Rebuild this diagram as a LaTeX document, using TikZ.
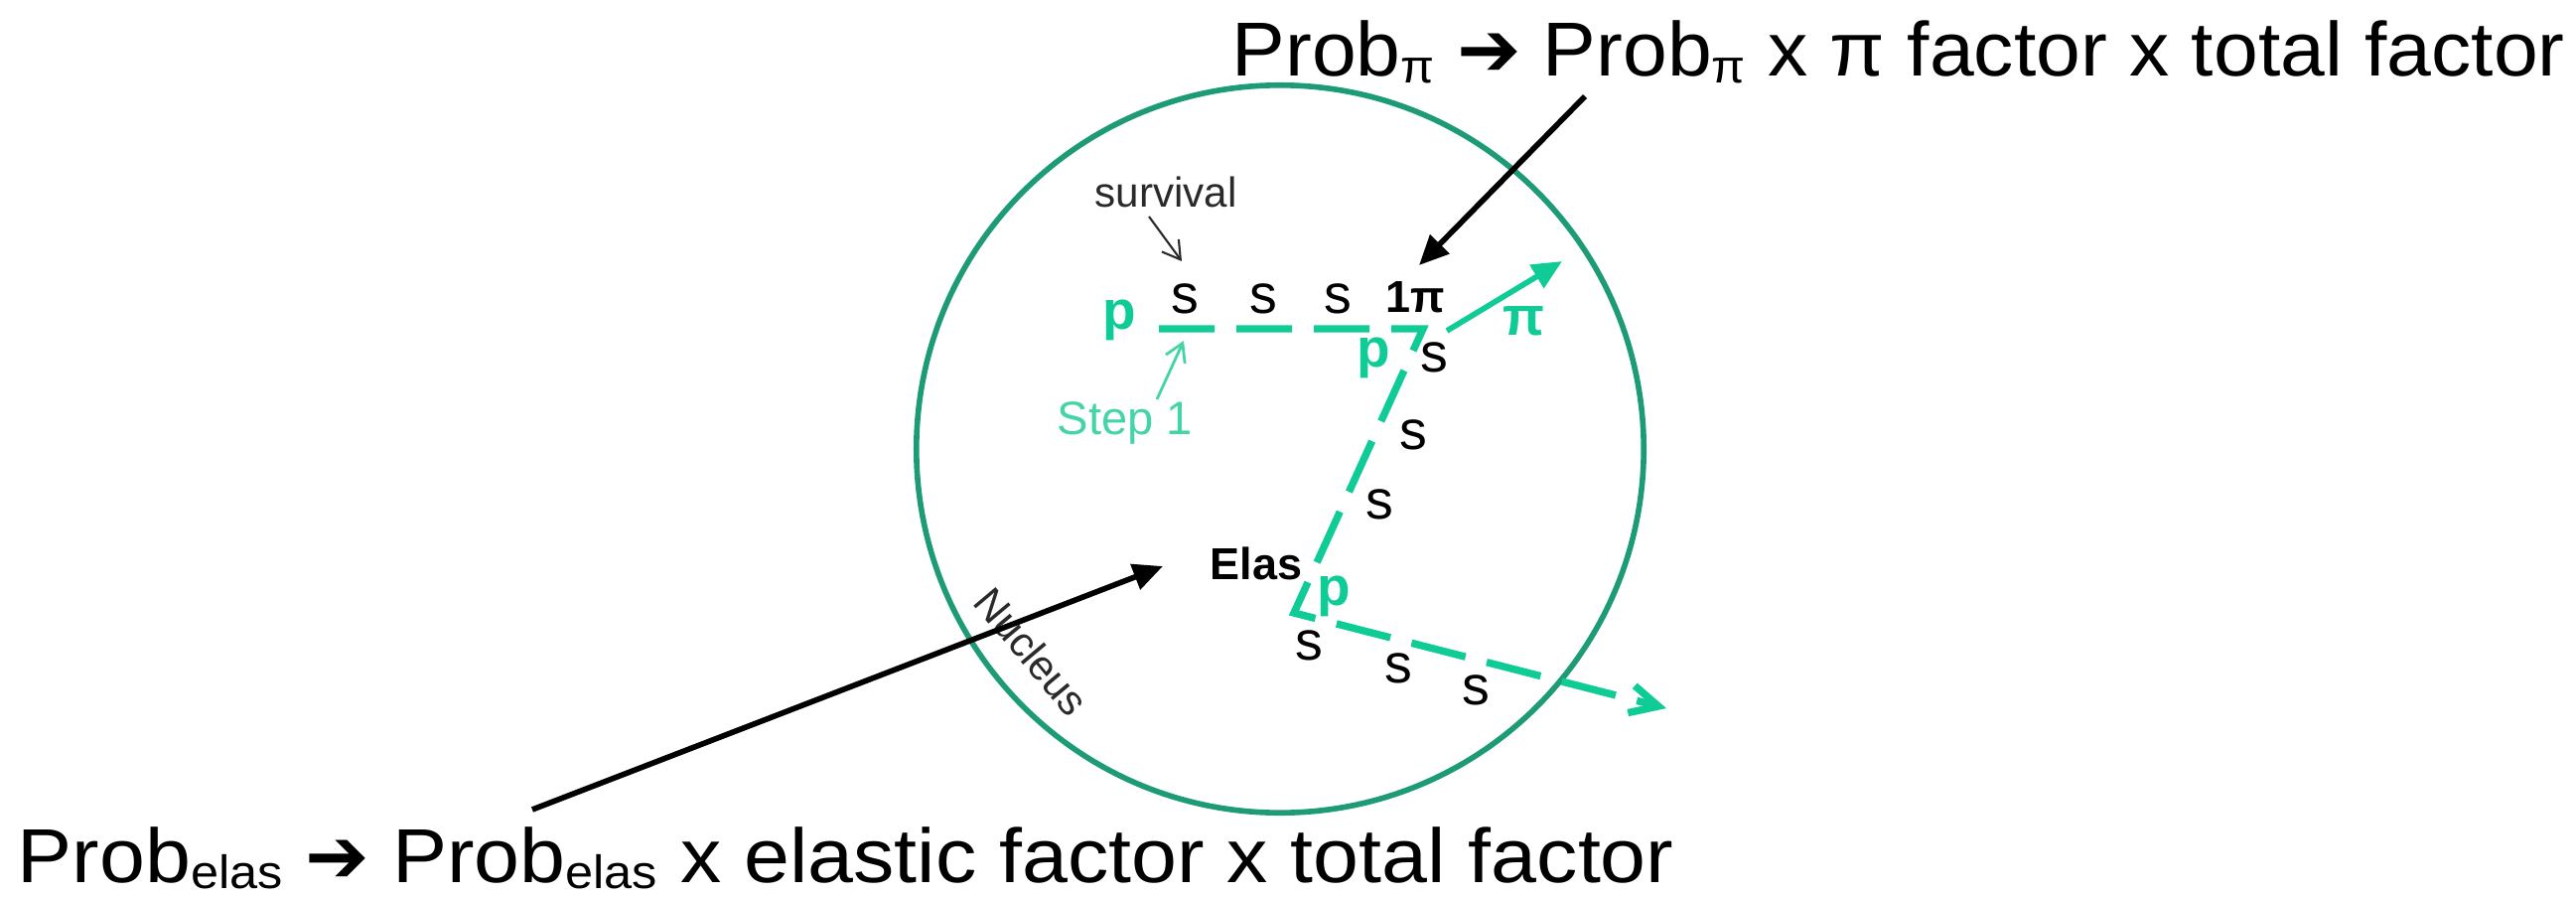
\documentclass[tikz,border=0pt]{standalone}
\usepackage{fontspec}
\setmainfont{Liberation Sans}
\newfontfamily\eqfont[FakeStretch=1.045]{Liberation Sans}
\newfontfamily\eqwidefont[FakeStretch=1.072]{Liberation Sans}
\newfontfamily\symfont{DejaVu Sans}
\usetikzlibrary{arrows.meta,positioning,calc}
\definecolor{ink}     {HTML}{000000}
\definecolor{mint}    {HTML}{0FCB95}
\definecolor{mintLt}  {HTML}{45D4A8}
\definecolor{teal}    {HTML}{1D9A76}
\definecolor{graphite}{HTML}{2A2A2A}
\newcommand{\lowsub}[1]{\raisebox{-0.08em}{\fontsize{13.4}{14}\selectfont #1}}
\tikzset{
  slabel/.style={font=\fontsize{15.8}{17}\selectfont, text=ink, inner sep=0pt},
  plabel/.style={font=\fontsize{15.6}{17}\selectfont\bfseries, text=mint, inner sep=0pt},
  blabel/.style={font=\fontsize{12.8}{15}\selectfont\bfseries, text=ink, inner sep=0pt},
  track/.style={draw=mint, line width=2.1pt, dash pattern=on 0.56cm off 0.22cm},
  callout/.style={draw=ink, line width=1.6pt, -{Triangle[length=8.5pt,width=7.5pt]}},
  eqtext/.style={font=\eqfont\fontsize{21.9}{26}\selectfont, inner sep=0pt, anchor=base west},
}

\begin{document}
\begin{tikzpicture}[x=0.01cm, y=0.01cm]
  \useasboundingbox (0,0) rectangle (2594,902);
  % nucleus
  \node[circle, draw=teal, line width=1.6pt, minimum size=7.32cm, inner sep=0pt] (nucleus) at (1289,450) {};
  \node[font=\fontsize{12}{14}\selectfont, text=graphite, rotate=-50, inner sep=0pt] (nuclab) at (1039,246) {Nucleus};
  % proton track
  \coordinate (trackin)  at (1167,571);
  \coordinate (kink)     at (1433,571);
  \coordinate (elastic)  at (1303,285);
  \coordinate (trackout) at (1678,189);
  \draw[track, -{Straight Barb[length=8pt,width=8pt]}] (trackin) -- (kink) -- (elastic) -- (trackout);
  % survival steps
  \foreach \x/\y/\n in {1193/601/s1,1272/601/s2,1347/601/s3,1444/542/s4,1423/464/s5,1389/394/s6,1318/252/s7,1408/229/s8,1486/207/s9}{
    \node[slabel] (\n) at (\x,\y) {s};
  }
  \node[blabel] (onepi) at (1425,603) {1π};
  \node[blabel] (elaslab) at (1265,335) {Elas};
  \foreach \x/\y/\n in {1127/580/pin,1383/542/pkink,1343/302/pelas}{
    \node[plabel] (\n) at (\x,\y) {p};
  }
  \node[plabel] (pilab) at (1534,579) {π};
  % pion
  \coordinate (pistart) at (1457,569);
  \coordinate (piend)   at (1573,639);
  \draw[mint, line width=1.6pt, -{Triangle[length=8.5pt,width=7.5pt]}] (pistart) -- (piend);
  % survival and step 1
  \node[font=\fontsize{12}{14}\selectfont, text=graphite, inner sep=0pt] (survival) at (1174,709) {survival};
  \coordinate (survtail) at (1157,684);
  \coordinate (survtip)  at (1190,639);
  \draw[graphite, line width=0.6pt, -{Straight Barb[length=5pt,width=6pt]}] (survtail) -- (survtip);
  \node[font=\fontsize{13.4}{15}\selectfont, text=mintLt, inner sep=0pt] (step) at (1133,476) {Step 1};
  \coordinate (steptail) at (1165,500);
  \coordinate (steptip)  at (1192,559);
  \draw[mintLt, line width=0.8pt, -{Straight Barb[length=5pt,width=6pt]}] (steptail) -- (steptip);
  % probabilities
  \node[eqtext] (pieq) at (1240,825) {Prob\lowsub{π} {\symfont ➔} Prob\lowsub{π} x π factor x total factor};
  \node[eqtext, font=\eqwidefont\fontsize{21.9}{26}\selectfont] (elaseq) at (17,14) {Prob\lowsub{elas} {\symfont ➔} Prob\lowsub{elas} x elastic factor x total factor};
  \coordinate (pitail)   at (1596,805);
  \coordinate (pitip)    at (1429,635);
  \coordinate (elastail) at (536,87);
  \coordinate (elastip)  at (1171,332);
  \draw[callout] (pitail) -- (pitip);
  \draw[callout] (elastail) -- (elastip);
\end{tikzpicture}
\end{document}
